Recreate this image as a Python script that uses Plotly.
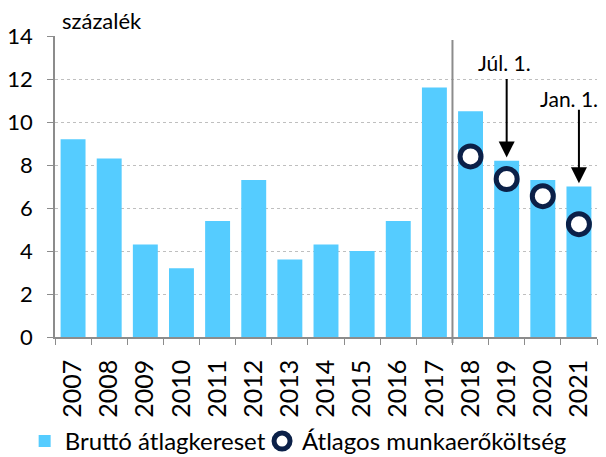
import plotly.graph_objects as go

years = ["2007", "2008", "2009", "2010", "2011", "2012", "2013", "2014",
         "2015", "2016", "2017", "2018", "2019", "2020", "2021"]
brutto = [9.2, 8.3, 4.3, 3.2, 5.4, 7.3, 3.6, 4.3, 4.0, 5.4, 11.6, 10.5, 8.2, 7.3, 7.0]
kost_years = ["2018", "2019", "2020", "2021"]
kost = [8.4, 7.35, 6.55, 5.25]
y_ticks = [0, 2, 4, 6, 8, 10, 12, 14]

FONT = "Lato"
fig = go.Figure()
fig.add_trace(go.Bar(x=years, y=brutto, name="Bruttó átlagkereset",
                     marker=dict(color="#55CCFF", line=dict(width=0)),
                     width=0.69, legend="legend"))
fig.add_trace(go.Scatter(x=kost_years, y=kost, name="Átlagos munkaerőköltség",
                         mode="markers", legend="legend2",
                         marker=dict(symbol="circle", size=21, color="white",
                                     line=dict(color="#0B2048", width=5))))

i2019 = years.index("2019")
i2021 = years.index("2021")
i_sep = years.index("2017") + 0.5

# separator line between 2017 and 2018
fig.add_shape(type="line", xref="x", yref="paper", x0=i_sep, x1=i_sep, y0=-0.02, y1=0.987,
              line=dict(color="#8C8C8C", width=2))

# arrows
fig.add_annotation(x=i2019, y=8.35, ax=0, ay=-80, xref="x", yref="y",
                   showarrow=True, arrowhead=2, arrowsize=1.6, arrowwidth=2, arrowcolor="black",
                   text="")
fig.add_annotation(x=i2019 - 0.05, y=12.75, xref="x", yref="y", text="Júl. 1.", showarrow=False,
                   font=dict(size=21, color="black", family=FONT))
fig.add_annotation(x=i2021, y=7.15, ax=0, ay=-75, xref="x", yref="y",
                   showarrow=True, arrowhead=2, arrowsize=1.6, arrowwidth=2, arrowcolor="black",
                   text="")
fig.add_annotation(x=1, y=11.1, xref="paper", yref="y", text="Jan. 1.", showarrow=False,
                   xanchor="right", xshift=3,
                   font=dict(size=21, color="black", family=FONT))

fig.add_annotation(x=0.01, y=1.0, xref="paper", yref="paper", text="százalék",
                   showarrow=False, xanchor="left", yanchor="bottom",
                   font=dict(size=22, color="black", family=FONT))

fig.update_layout(
    width=598, height=449,
    margin=dict(l=47, r=9, t=28, b=120, autoexpand=False),
    paper_bgcolor="white", plot_bgcolor="white",
    font=dict(family=FONT, color="black", size=22),
    bargap=0.31,
    showlegend=True,
    legend=dict(orientation="h", x=-0.056, y=-0.347, xanchor="left", yanchor="middle",
                font=dict(size=24, family=FONT), itemwidth=30, bgcolor="rgba(0,0,0,0)"),
    legend2=dict(orientation="h", x=0.382, y=-0.347, xanchor="left", yanchor="middle",
                 font=dict(size=24, family=FONT), itemwidth=30, bgcolor="rgba(0,0,0,0)"),
)
fig.update_xaxes(type="category", categoryorder="array", categoryarray=years,
                 range=[-0.5, len(years) - 0.5], automargin=False,
                 tickangle=-90, showline=True, linecolor="#8C8C8C",
                 linewidth=1.5, ticks="outside", ticklen=6, tickcolor="#8C8C8C",
                 tickson="boundaries", showgrid=False, tickfont=dict(size=25),
                 ticklabelstandoff=11)
fig.update_yaxes(range=[0, 14], tickvals=y_ticks, showline=True, linecolor="#8C8C8C",
                 automargin=False,
                 linewidth=1.5, ticks="outside", ticklen=6, tickcolor="#8C8C8C",
                 showgrid=True, gridcolor="#BFBFBF", griddash="dot", gridwidth=1,
                 zeroline=False, tickfont=dict(size=22), ticklabelstandoff=10)

fig.write_html("out.html")
